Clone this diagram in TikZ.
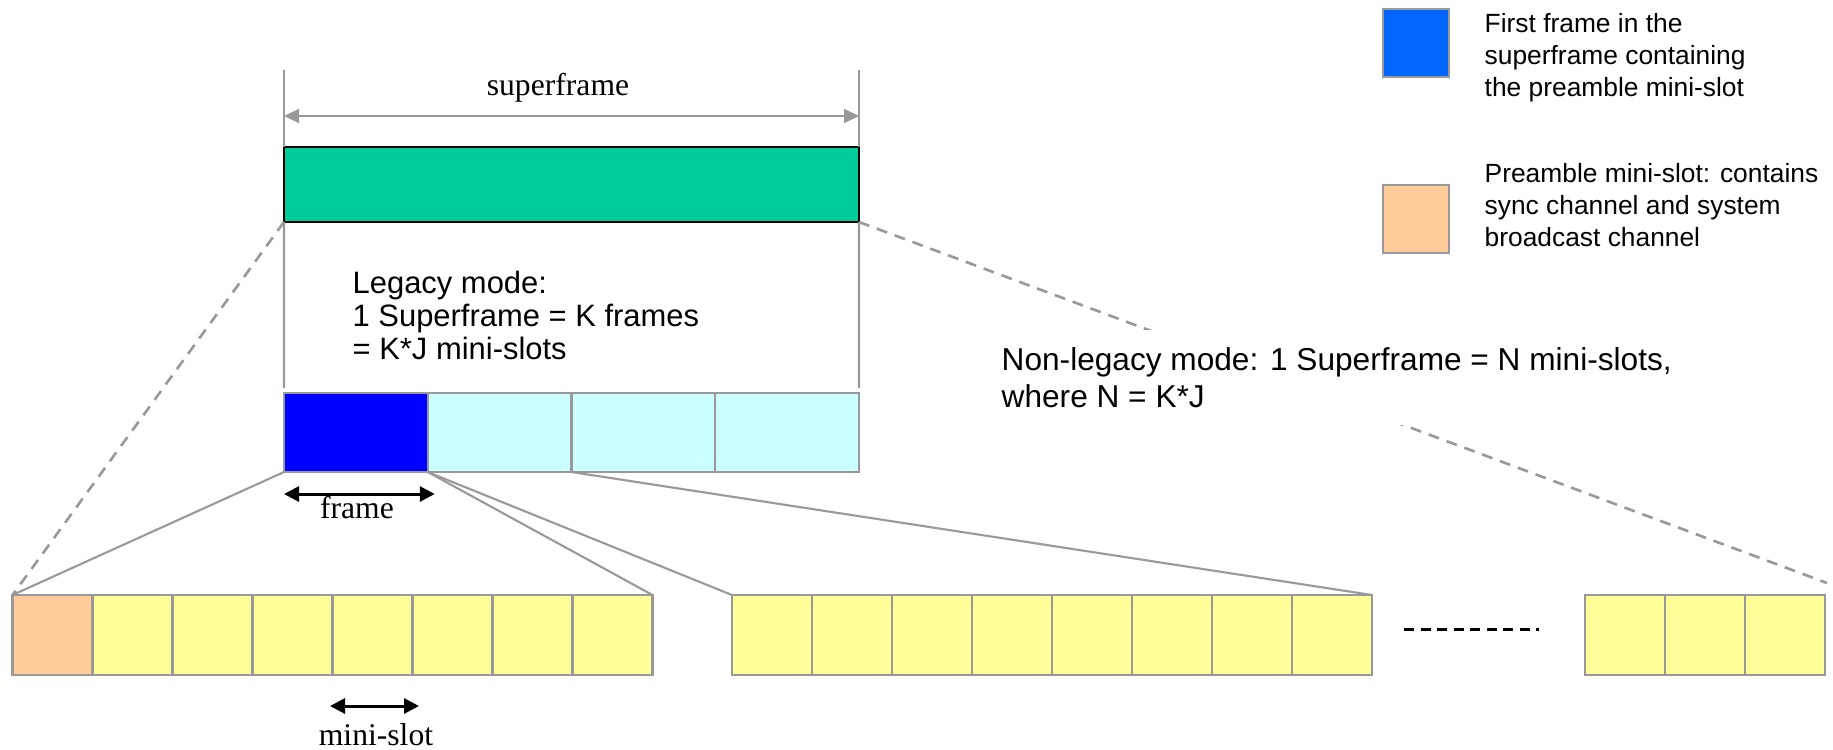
\documentclass[tikz,border=0pt]{standalone}
\usepackage{fontspec}
\setmainfont{Liberation Sans}
\newfontfamily\timesfont{Liberation Serif}
\usetikzlibrary{arrows.meta}
\definecolor{sfgreen}{RGB}{0,204,153}
\definecolor{firstblue}{RGB}{0,0,255}
\definecolor{legendblue}{RGB}{0,102,255}
\definecolor{framecyan}{RGB}{204,255,255}
\definecolor{preorange}{RGB}{255,204,153}
\definecolor{slotyellow}{RGB}{255,255,153}
\definecolor{linegray}{RGB}{153,153,153}

\begin{document}
\begin{tikzpicture}[
  framebox/.style={draw=linegray, line width=0.6pt, fill=framecyan, minimum width=1.4375cm, minimum height=0.79cm, inner sep=0pt, outer sep=0pt},
  slotbox/.style={draw=linegray, line width=0.6pt, fill=slotyellow, minimum width=0.8cm, minimum height=0.8cm, inner sep=0pt, outer sep=0pt},
  keybox/.style={draw=linegray, line width=0.6pt, minimum width=0.66cm, minimum height=0.68cm, inner sep=0pt},
  zoomline/.style={draw=linegray, line width=0.6pt},
  zoomdash/.style={draw=linegray, line width=0.75pt, dash pattern=on 0.11cm off 0.08cm},
  dimarrow/.style={line width=0.85pt, {Triangle[length=0.15cm,width=0.15cm]}-{Triangle[length=0.15cm,width=0.15cm]}},
  serifl/.style={anchor=base, inner sep=0pt, font=\timesfont\fontsize{9}{11}\selectfont},
]

  \useasboundingbox (0,0) rectangle (18.33,7.49);

  % Superframe and its frames
  \node[draw=black, line width=0.6pt, fill=sfgreen, minimum width=5.75cm, minimum height=0.75cm, inner sep=0pt, outer sep=0pt] (sf) at (5.715,5.645) {};
  \foreach \i/\c in {1/firstblue,2/framecyan,3/framecyan,4/framecyan}
    \node[framebox, fill=\c] (f\i) at ({2.84+1.4375*(\i-0.5)},3.165) {};

  % Width of the superframe
  \draw[zoomline] ([yshift=0.77cm]sf.north west) -- (sf.north west);
  \draw[zoomline] ([yshift=0.77cm]sf.north east) -- (sf.north east);
  \draw[zoomline] (sf.south west) -- ([yshift=0.05cm]f1.north west);
  \draw[zoomline] (sf.south east) -- ([yshift=0.05cm]f4.north east);
  \draw[linegray, line width=0.6pt, {Triangle[length=0.15cm,width=0.14cm]}-{Triangle[length=0.15cm,width=0.14cm]}]
    ([yshift=0.31cm]sf.north west) -- ([yshift=0.31cm]sf.north east);
  \node[serifl] (sflabel) at (5.58,6.54) {superframe};

  \node[anchor=west, align=left, inner sep=0pt, font=\fontsize{8.8}{9.4}\selectfont] (legacy) at (3.52,4.34)
    {Legacy mode:\\1 Superframe = K frames\\= K*J mini-slots};

  % Mini-slots
  \node[slotbox, fill=preorange] (a1) at (0.525,1.14) {};
  \foreach \j in {2,...,8}
    \node[slotbox] (a\j) at ({0.125+0.8*(\j-0.5)},1.14) {};
  \foreach \j in {1,...,8}
    \node[slotbox] (b\j) at ({7.32+0.8*(\j-0.5)},1.14) {};
  \foreach \j in {1,2,3}
    \node[slotbox] (c\j) at ({15.85+0.8*(\j-0.5)},1.14) {};
  \draw[line width=0.85pt, dash pattern=on 0.1cm off 0.065cm]
    ([xshift=0.32cm,yshift=0.06cm]b8.east) -- ([xshift=-0.46cm,yshift=0.06cm]c1.west);

  % Zoom lines
  \draw[zoomline] (f1.south west) -- (a1.north west);
  \draw[zoomline] (f1.south east) -- (a8.north east);
  \draw[zoomline] (f1.south east) -- (b1.north west);
  \draw[zoomline] (f2.south east) -- (b8.north east);
  \draw[zoomdash] (sf.south west) -- (a1.north west);
  \draw[zoomdash] (sf.south east) -- ([xshift=0.02cm,yshift=0.12cm]c3.north east);

  \node[anchor=west, align=left, fill=white, inner sep=0.17cm, font=\fontsize{9}{10.5}\selectfont] (nonlegacy) at (9.84,3.715)
    {Non-legacy mode: 1 Superframe = N mini-slots,\\where N = K*J};

  % Frame and mini-slot widths
  \draw[dimarrow] ([yshift=-0.22cm]f1.south west) -- ([xshift=0.07cm,yshift=-0.22cm]f1.south east);
  \node[serifl] (framelabel) at (3.57,2.31) {frame};
  \draw[dimarrow] ([xshift=-0.025cm,yshift=-0.31cm]a5.south west) -- ([xshift=0.065cm,yshift=-0.31cm]a5.south east);
  \node[serifl] (slotlabel) at (3.76,0.04) {mini-slot};

  % Legend
  \node[keybox, fill=legendblue] (keyfirst) at (14.16,7.06) {};
  \node[anchor=north west, align=left, inner sep=0pt, font=\fontsize{7.5}{9.1}\selectfont] (keyfirsttext) at (14.84,7.36)
    {First frame in the\\superframe containing\\the preamble mini-slot};
  \node[keybox, fill=preorange] (keypre) at (14.16,5.30) {};
  \node[anchor=north west, align=left, inner sep=0pt, font=\fontsize{7.5}{9.1}\selectfont] (keypretext) at (14.84,5.86)
    {Preamble mini-slot: contains\\sync channel and system\\broadcast channel};

\end{tikzpicture}
\end{document}
